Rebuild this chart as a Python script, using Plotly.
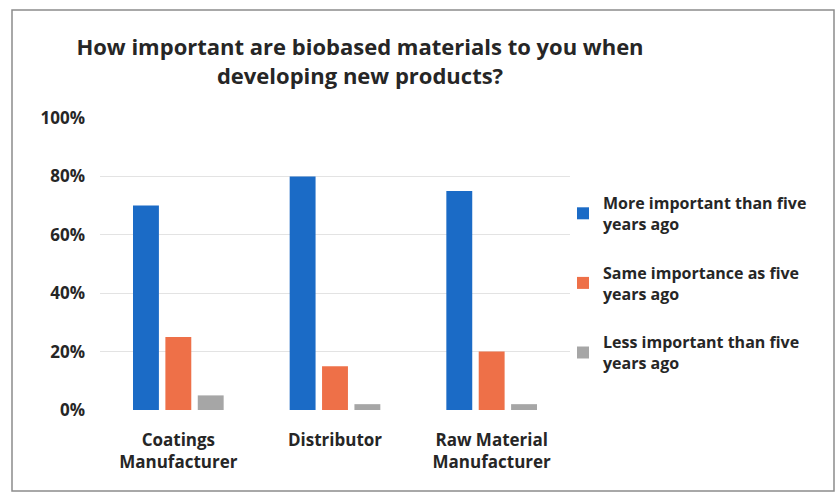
import plotly.graph_objects as go

categories = ["Coatings<br>Manufacturer", "Distributor", "Raw Material<br>Manufacturer"]
series_names = [
    "More important than five<br>years ago",
    "Same importance as five<br>years ago",
    "Less important than five<br>years ago",
]
more_important = [0.70, 0.80, 0.75]
same_importance = [0.25, 0.15, 0.20]
less_important = [0.05, 0.02, 0.02]
series_values = [more_important, same_importance, less_important]
series_colors = ["#1b6bc6", "#ee7048", "#a6a6a6"]
y_ticks = [0, 0.2, 0.4, 0.6, 0.8, 1.0]
y_tick_labels = ["0%", "20%", "40%", "60%", "80%", "100%"]

FONT = "Open Sans"
TEXT = "#262626"

fig = go.Figure()
for i, (name, vals, col) in enumerate(zip(series_names, series_values, series_colors)):
    fig.add_trace(go.Bar(
        x=categories, y=vals, name=name, marker_color=col,
        marker_line_width=0, legendgroup=f"g{i}",
    ))

W, H = 837, 493
L, R, T, B = 100, 267, 118, 83
pw, ph = W - L - R, H - T - B

def px_x(p):
    return (p - L) / pw

def px_y(p):
    return (H - B - p) / ph

fig.update_layout(
    width=W, height=H,
    margin=dict(l=L, r=R, t=T, b=B),
    paper_bgcolor="white", plot_bgcolor="white",
    barmode="group", bargap=0.38, bargroupgap=0.2,
    font=dict(family=FONT, color=TEXT, weight=700),
    title=dict(
        text="How important are biobased materials to you when<br>developing new products?",
        x=360 / W, xanchor="center", y=1 - 55 / H, yanchor="top",
        font=dict(size=22, family=FONT, color=TEXT, weight=700),
    ),
    legend=dict(
        x=px_x(563), xanchor="left", y=px_y(186), yanchor="top",
        font=dict(size=16, family=FONT, color=TEXT, weight=700),
        tracegroupgap=25, bgcolor="rgba(0,0,0,0)",
    ),
    xaxis=dict(
        showgrid=False, showline=False, ticks="",
        ticklabelstandoff=18,
        tickfont=dict(size=17, family=FONT, color=TEXT, weight=700),
    ),
    yaxis=dict(
        range=[0, 1], tickvals=y_ticks, ticktext=y_tick_labels,
        showgrid=True, gridcolor="#e3e3e3", gridwidth=1,
        zeroline=False, showline=False, ticks="",
        ticklabelstandoff=14,
        tickfont=dict(size=17, family=FONT, color=TEXT, weight=700),
    ),
    shapes=[dict(
        type="rect", xref="paper", yref="paper",
        x0=px_x(12), x1=px_x(834), y0=px_y(491), y1=px_y(10),
        line=dict(color="#8c8c8c", width=1.5), fillcolor="rgba(0,0,0,0)",
        layer="below",
    )],
)

fig.write_html("out.html")
